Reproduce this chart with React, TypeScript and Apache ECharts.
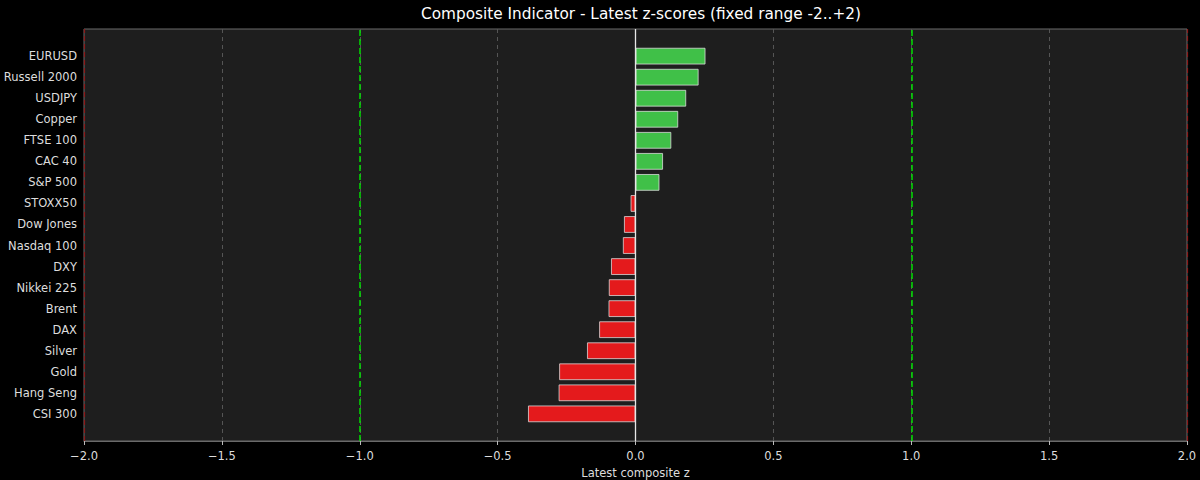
import React, { useEffect, useRef } from "react";
import * as echarts from "echarts";

const categories = [
  "EURUSD", "Russell 2000", "USDJPY", "Copper", "FTSE 100", "CAC 40", "S&P 500",
  "STOXX50", "Dow Jones", "Nasdaq 100", "DXY", "Nikkei 225", "Brent", "DAX",
  "Silver", "Gold", "Hang Seng", "CSI 300",
];
const zScores = [
  0.254, 0.229, 0.184, 0.155, 0.13, 0.1, 0.087,
  -0.018, -0.042, -0.046, -0.089, -0.097, -0.098, -0.132,
  -0.176, -0.277, -0.279, -0.39,
];
const thresholdLines = [-1, 1];
const rangeLines = [-2, 2];
const xMin = -2;
const xMax = 2;

const fmt = (v: number) => (v < 0 ? "\u2212" : "") + Math.abs(v).toFixed(1);

export default function App() {
  const ref = useRef<HTMLDivElement>(null);
  useEffect(() => {
    if (!ref.current) return;
    const chart = echarts.init(ref.current, undefined, { renderer: "svg" });
    const font = "DejaVu Sans";
    const n = categories.length;
    const span = n - 1 + 0.8;
    const unitsTotal = span * 1.1;
    const plotTop = 29;
    const plotBottom = 441;
    const pxPerUnit = (plotBottom - plotTop) / unitsTotal;
    const g1Top = plotTop + (span * 0.05 + 0.4 - 0.5) * pxPerUnit;
    const g1Height = n * pxPerUnit;
    const g1Bottom = 480 - (g1Top + g1Height);

    chart.setOption({
      animation: false,
      backgroundColor: "#000000",
      title: {
        text: "Composite Indicator - Latest z-scores (fixed range -2..+2)",
        left: 636,
        textAlign: "center",
        top: 1,
        textStyle: { color: "#ffffff", fontSize: 15.3, fontWeight: "normal", fontFamily: font },
      },
      grid: [
        { left: 84, right: 13, top: plotTop, bottom: 480 - plotBottom, show: true, backgroundColor: "#1e1e1e", borderColor: "#6a6a6a", borderWidth: 1, outerBoundsMode: "none", containLabel: false },
        { left: 84, right: 13, top: g1Top, bottom: g1Bottom, outerBoundsMode: "none", containLabel: false },
      ],
      xAxis: [
        {
          gridIndex: 0, type: "value", min: xMin, max: xMax, interval: 0.5,
          name: "Latest composite z", nameLocation: "middle", nameGap: 25,
          nameTextStyle: { color: "#dddddd", fontSize: 11.5, fontFamily: font },
          axisLine: { show: true, lineStyle: { color: "#6a6a6a" } },
          axisTick: { show: true, length: 4, lineStyle: { color: "#bbbbbb" } },
          axisLabel: { color: "#dddddd", fontSize: 11.5, fontFamily: font, margin: 9, formatter: fmt },
          splitLine: { show: true, lineStyle: { color: "#555555", type: [4, 4], width: 1 } },
        },
        {
          gridIndex: 1, type: "value", min: xMin, max: xMax, interval: 0.5,
          axisLine: { show: false }, axisTick: { show: false }, axisLabel: { show: false }, splitLine: { show: false },
        },
      ],
      yAxis: [
        { gridIndex: 0, type: "value", min: 0, max: 1, show: false },
        {
          gridIndex: 1, type: "category", data: categories, inverse: true,
          axisLine: { show: false }, axisTick: { show: false },
          axisLabel: { color: "#dddddd", fontSize: 11.5, fontFamily: font, margin: 7 },
        },
      ],
      series: [
        {
          type: "bar",
          xAxisIndex: 1,
          yAxisIndex: 1,
          barWidth: "80%",
          z: 2,
          data: zScores.map((v) => ({
            value: v,
            itemStyle: {
              color: v >= 0 ? "#40c048" : "#e41a1c",
              borderColor: "rgba(225,225,225,0.75)",
              borderWidth: 1,
            },
          })),
        },
        {
          type: "line",
          xAxisIndex: 0,
          yAxisIndex: 0,
          data: [],
          z: 10,
          silent: true,
          markLine: {
            symbol: "none",
            silent: true,
            label: { show: false },
            data: [
              { xAxis: 0, lineStyle: { color: "#e6e6e6", type: "solid", width: 1.3 } },
              ...thresholdLines.map((x) => ({ xAxis: x, lineStyle: { color: "#00e000", type: [6, 3], width: 1.5 } })),
              ...rangeLines.map((x) => ({ xAxis: x, lineStyle: { color: "#8b1a1a", type: [5, 3], width: 1.2 } })),
            ],
          },
        },
      ],
    });
    return () => chart.dispose();
  }, []);
  return <div ref={ref} style={{ width: 1200, height: 480, position: "absolute", left: 0, top: 0 }} />;
}
